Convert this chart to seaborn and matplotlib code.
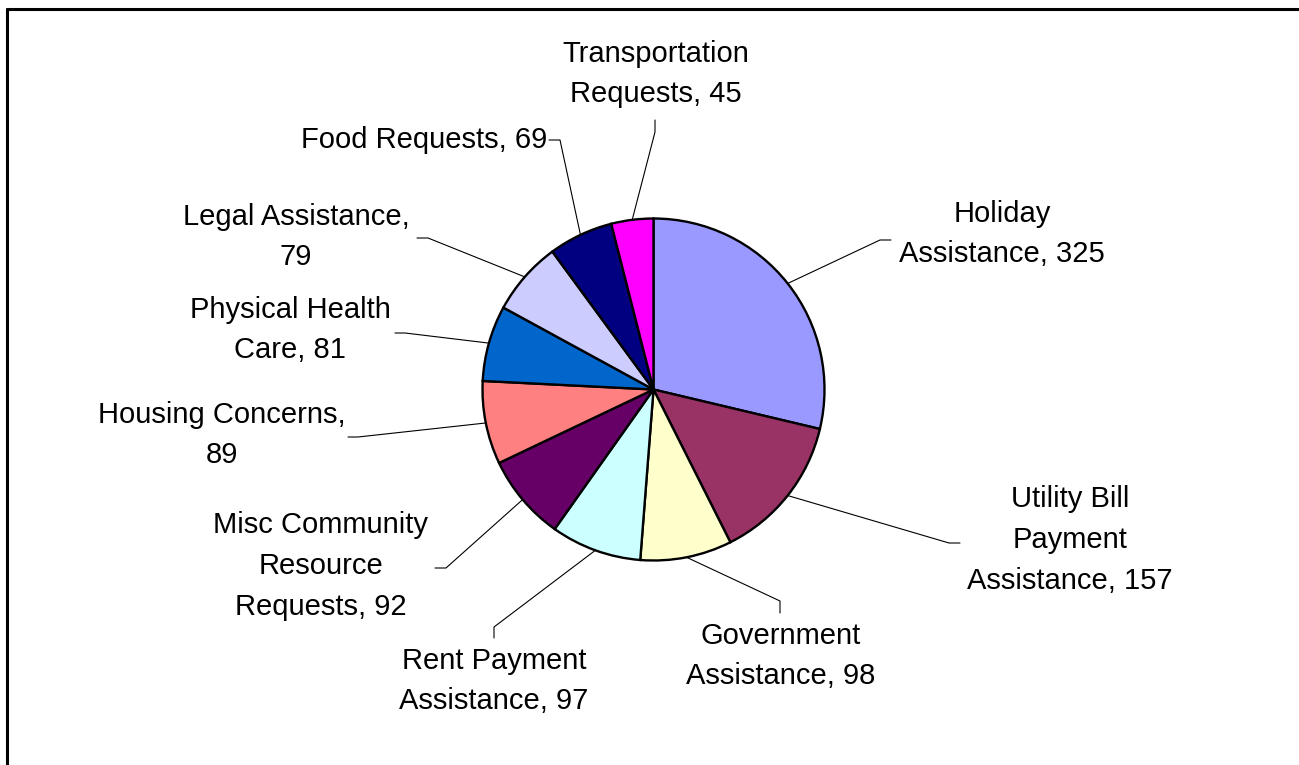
import matplotlib
matplotlib.use("Agg")
import matplotlib.pyplot as plt
import seaborn as sns
import numpy as np

# data
categories = ["Holiday Assistance", "Utility Bill Payment Assistance", "Government Assistance",
              "Rent Payment Assistance", "Misc Community Resource Requests", "Housing Concerns",
              "Physical Health Care", "Legal Assistance", "Food Requests", "Transportation Requests"]
requests = [325, 157, 98, 97, 92, 89, 81, 79, 69, 45]
label_fmt = ["Holiday\nAssistance, {}", "Utility Bill\nPayment\nAssistance, {}", "Government\nAssistance, {}",
             "Rent Payment\nAssistance, {}", "Misc Community\nResource\nRequests, {}", "Housing Concerns,\n{}",
             "Physical Health\nCare, {}", "Legal Assistance,\n{}", "Food Requests, {}", "Transportation\nRequests, {}"]
slice_colors = ["#9999FF", "#993366", "#FFFFCC", "#CCFFFF", "#660066",
                "#FF8080", "#0066CC", "#CCCCFF", "#000080", "#FF00FF"]

sns.set_theme(style="white")
plt.rcParams['font.family'] = ['Liberation Sans', 'DejaVu Sans']

W, H = 1299, 765
fig = plt.figure(figsize=(W / 100, H / 100), dpi=100)
ax = fig.add_axes([0, 0, 1, 1])


def Y(y):
    # image pixel row -> data y
    return H - y


cx, cy, r = 653.5, Y(389.5), 171
wedges, _ = ax.pie(requests, colors=sns.color_palette(slice_colors), startangle=90, counterclock=False,
                   center=(cx, cy), radius=r, frame=True,
                   wedgeprops=dict(edgecolor='black', linewidth=1.7))

# layout: text anchor (x, y, ha) and leader elbow/end in image pixels
text_pos = [(1002, 234, 'center'), (1070, 540, 'center'), (781, 656, 'center'), (494, 681, 'center'),
            (321, 566, 'center'), (222, 435, 'center'), (290, 330, 'center'), (296, 237, 'center'),
            (547, 140, 'right'), (656, 74, 'center')]
leader = [((880, 240), (891, 240)), ((949, 543), (960, 543)), ((780, 601), (780, 613)),
          ((494, 627), (494, 638)), ((446, 568), (435, 568)), ((358, 437), (348, 437)),
          ((405, 333), (395, 333)), ((428, 238), (417, 238)), ((560, 140), (549, 140)),
          ((655, 132), (655, 120))]

for w, val, fmt, (tx, ty, ha), (elb, end) in zip(wedges, requests, label_fmt, text_pos, leader):
    mid = np.deg2rad((w.theta1 + w.theta2) / 2)
    ex, ey = cx + r * np.cos(mid), cy + r * np.sin(mid)
    ax.plot([ex, elb[0], end[0]], [ey, Y(elb[1]), Y(end[1])], color='black', lw=0.8, zorder=0)
    ax.text(tx, Y(ty), fmt.format(val), ha=ha, va='center', multialignment='center',
            fontsize=21, linespacing=1.58, color='black')

# chart frame (only top and left edges show)
ax.plot([7, W + 10], [Y(9), Y(9)], color='black', lw=2.2, clip_on=False)
ax.plot([7, 7], [Y(9), -10], color='black', lw=2.2, clip_on=False)

ax.set_xlim(0, W)
ax.set_ylim(0, H)
ax.set_aspect('auto')
ax.axis('off')

fig.savefig('out.png', dpi=100)
